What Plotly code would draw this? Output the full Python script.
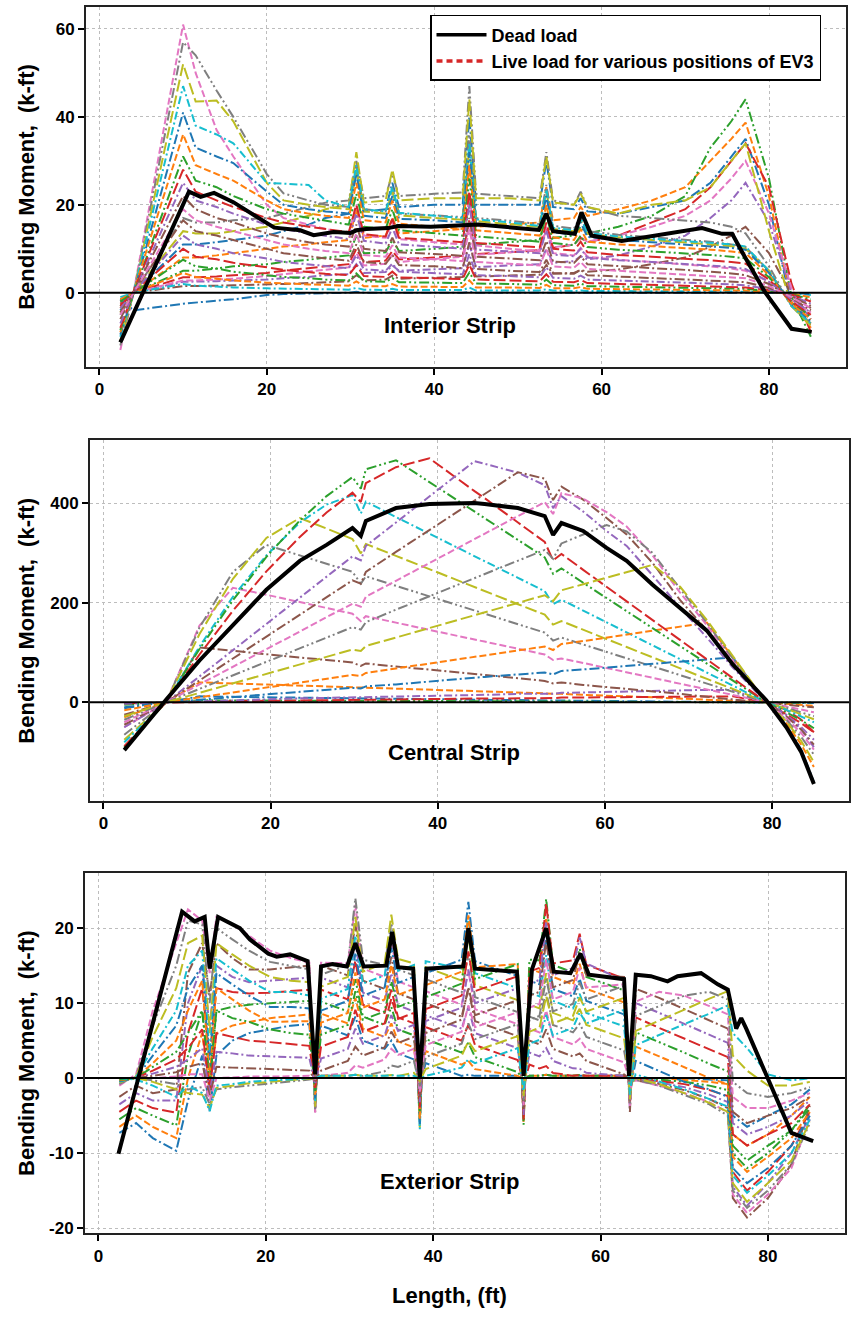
import plotly.graph_objects as go

# ======================= DATA =======================
# ---- Interior strip (top panel) ----
int_x = [2.5, 4.1, 10, 11.5, 14, 16, 20, 22, 25, 27, 29.8, 30.7, 31.6, 34.2, 35.0, 35.8, 40, 43.4,
         44.2, 45.0, 49, 52.6, 53.4, 54.2, 56.7, 57.5, 58.3, 62, 66, 70, 73, 75.5, 77.2, 80, 82.7, 85]
int_dead_x = [2.5, 10.7, 12.1, 13.7, 16, 20.9, 24, 25.6, 28, 30, 30.7, 31.9, 34.5, 35.7, 39.6, 43.6,
              45.3, 52.5, 53.4, 54.2, 56.8, 57.6, 58.8, 62.4, 66.3, 72, 74.4, 75.6, 76.8, 79.5, 82.7, 85.1]
int_dead_y = [-11.3, 23, 21.8, 22.7, 20.6, 14.8, 14.2, 13.1, 13.8, 13.6, 14.2, 14.5, 14.7, 15.2, 15, 15.3,
              15.5, 14.3, 18, 14, 13.4, 18.3, 13, 11.8, 13, 14.7, 13.4, 13.4, 9.2, 0.2, -8.2, -8.9]
int_live = [
    [-4, 0, 11, 11, 11.5, 12, 13, 14, 15.5, 17, 18, 28, 18.5, 19, 25, 19.5, 20, 20, 40, 20, 20, 20, 30, 19.5, 19, 21.5, 18.5, 18, 19.5, 21, 25, 31, 35, 20, -3, -7.5],
    [-3.5, 0, 8, 8, 8.5, 9, 10, 10.5, 11, 11.5, 12, 19, 12.5, 13, 17, 13.5, 14, 14.5, 29, 15, 15.5, 16, 24, 16.5, 17, 19.5, 17.5, 19, 21, 24, 30, 35, 38.7, 22, -2, -8],
    [-3, 0, 5, 5, 5.5, 6, 6.5, 7, 7.5, 8, 8.5, 13, 9, 9.2, 12, 9.5, 10, 10.5, 21, 11, 11.5, 12, 18, 12.5, 13, 15, 13.5, 15, 17.5, 22, 33, 39, 44, 26, -1, -10],
    [-2.5, 0, 3.5, 3.5, 3.7, 4, 4.5, 5, 5.5, 6, 6.5, 10, 7, 7.3, 9.5, 7.6, 8, 8.4, 16.5, 8.8, 9.2, 9.7, 14.5, 10.2, 11, 12.5, 11.5, 13, 16, 19, 24, 30, 34, 24, 2, -9],
    [-2, 0, 2.5, 2.5, 2.6, 2.8, 3, 3.3, 3.6, 4, 4.2, 6.5, 4.5, 4.7, 6.2, 5, 5.3, 5.6, 11, 5.8, 6.2, 6.5, 10, 6.8, 7.2, 8.3, 7.6, 8.5, 10.5, 13, 17, 21, 25, 16, 0, -6],
    [-1.5, 0, 1.5, 1.5, 1.6, 1.7, 1.8, 2, 2.2, 2.4, 2.6, 4, 2.8, 3, 3.9, 3.2, 3.4, 3.6, 7, 3.7, 3.9, 4.1, 6.3, 4.3, 4.5, 5.2, 4.8, 5.3, 6.5, 8, 10.5, 13, 15, 9, -0.5, -3.5],
    [-2, 0, 2.8, 2.8, 3, 3.2, 3.8, 4.2, 4.8, 5.2, 5.8, 9, 6.2, 6.6, 8.6, 7, 7.6, 8.2, 16, 8.6, 9.2, 9.8, 15, 10.3, 11, 12.6, 11.6, 13, 15, 17.5, 21, 26, 30, 18, 1, -8],
    [-5, 0, 17, 16, 16, 16.5, 17, 18, 19.5, 20.5, 21, 30, 21.5, 22, 27, 22, 22.5, 22.8, 47, 22.5, 22, 21.5, 32, 21, 20, 23, 19.5, 17.5, 17, 16.5, 16, 15, 13.5, 6, -3, -6],
    [-4.5, 0, 14, 13.5, 13.5, 14, 15, 16, 17.5, 19, 20, 32, 20.5, 21, 28, 21, 21.5, 21.5, 44, 21.5, 21.5, 21, 31, 20.5, 20, 22.5, 19.5, 18, 20, 21, 24, 30, 34, 14, -3, -7],
    [-1, 0, 2, 1.6, 1.4, 1.2, 1, 0.9, 0.8, 0.8, 0.7, 1.1, 0.7, 0.6, 0.9, 0.6, 0.6, 0.6, 1.2, 0.5, 0.5, 0.5, 0.8, 0.5, 0.4, 0.5, 0.4, 0.4, 0.4, 0.3, 0.3, 0.3, 0.2, 0.1, -0.1, -0.5],
    [-1.5, -4, -2.5, -2.2, -1.8, -1.5, -0.5, -0.3, -0.2, -0.1, 0, 0.2, 0, 0, 0.1, 0, 0, 0, 0.2, 0, 0, 0, 0.1, 0, 0, 0, 0, 0, 0, 0, 0, 0, 0, 0, 0, -0.3],
    [-1.5, 0, 4.5, 3.6, 3.2, 2.8, 2.3, 2.1, 1.9, 1.8, 1.6, 2.6, 1.5, 1.5, 2, 1.4, 1.3, 1.3, 2.8, 1.2, 1.2, 1.1, 1.8, 1, 1, 1.3, 0.9, 0.8, 0.8, 0.7, 0.6, 0.6, 0.5, 0.2, -0.2, -1],
    [-2, 0, 7.5, 6, 5.5, 4.8, 4, 3.6, 3.3, 3, 2.8, 4.4, 2.6, 2.5, 3.3, 2.4, 2.3, 2.2, 4.6, 2.1, 2, 1.8, 3, 1.7, 1.6, 2.1, 1.5, 1.4, 1.3, 1.2, 1.1, 1, 0.9, 0.4, -0.3, -1.5],
    [-3, 0.1, 10, 8.2, 7.6, 6.8, 5.8, 5.2, 4.7, 4.3, 4, 6.2, 3.8, 3.6, 4.8, 3.5, 3.3, 3.1, 6.4, 3, 2.8, 2.6, 4.2, 2.5, 2.4, 2.9, 2.2, 2, 1.9, 1.7, 1.5, 1.4, 1.2, 0.6, -0.4, -2],
    [-3.5, 0, 13, 11, 10, 9, 7.8, 7, 6.4, 6, 5.6, 8.5, 5.3, 5, 6.6, 4.8, 4.5, 4.2, 8.8, 4, 3.8, 3.5, 5.8, 3.4, 3.2, 3.9, 3, 2.8, 2.6, 2.3, 2.1, 1.9, 1.7, 0.8, -0.6, -2.5],
    [-4.5, 0.2, 16.5, 14, 13, 12, 10, 9, 8.3, 7.8, 7.3, 11, 7, 6.6, 8.6, 6.3, 6, 5.6, 11.5, 5.4, 5, 4.7, 7.5, 4.5, 4.3, 5.2, 4, 3.7, 3.4, 3.1, 2.8, 2.6, 2.4, 1.1, -0.8, -3],
    [-13, 0.3, 61, 50, 37, 31, 20, 17, 15.5, 14.5, 13.5, 20, 13, 12.5, 16, 12.2, 11.5, 11, 22, 10.8, 10, 9.4, 14.5, 9, 8.5, 10.2, 8.2, 7.5, 7, 6.5, 6, 5.5, 5, 2.5, -1.5, -4.5],
    [-12, 0, 57, 54, 46, 40, 27, 22.6, 21, 20, 19.5, 29, 19, 18.5, 24, 18, 17.6, 17.2, 36, 17, 16.4, 15.6, 24.5, 15.2, 14.6, 17.5, 14, 13.2, 12.6, 12, 11.6, 11, 10.4, 5, -3, -7],
    [-11, 0, 52, 43.5, 43.7, 39, 25, 21, 20, 19.5, 19, 28, 18.5, 18, 23, 17.6, 17, 16.6, 33, 16.3, 15.6, 15, 23, 14.5, 14, 16.5, 13.4, 12.6, 12, 11.5, 11, 10.6, 10, 5, -3, -7.5],
    [-10, 0.2, 47, 38, 36, 34, 25, 24.8, 24.5, 21, 19.5, 29, 19, 18.5, 24, 18.2, 17.5, 17, 34, 16.7, 16, 15.2, 23.5, 14.8, 14.2, 17, 13.6, 12.8, 12.3, 11.8, 11.4, 11, 10.5, 5, -3, -7],
    [-9.5, 0, 41, 33, 31, 29.5, 23, 20, 19, 18.5, 18, 27, 17.5, 17, 22, 16.8, 16.5, 16, 32, 15.7, 15, 14.3, 22, 13.8, 13.2, 16, 12.7, 12, 11.5, 11, 10.6, 10.2, 9.8, 4.5, -2.5, -6.5],
    [-9, 0.3, 36, 29, 27, 25.5, 21, 19, 18, 17.5, 17, 25, 16.5, 16, 21, 15.7, 15, 14.5, 29, 14.2, 13.6, 13, 20, 12.6, 12, 14.5, 11.6, 11, 10.6, 10.2, 9.8, 9.4, 9, 4, -2.5, -6],
    [-8.5, 0, 31, 25.5, 24, 22, 19, 18, 17, 16.3, 15.5, 22.5, 15, 14.5, 19, 14.2, 13.6, 13, 26, 12.8, 12.2, 11.6, 18, 11.3, 10.8, 13, 10.4, 9.8, 9.4, 9, 8.6, 8.2, 7.8, 3.5, -2, -5.5],
    [-8, 0.3, 28, 23, 21, 19.5, 17, 16, 15, 14.5, 13.8, 20, 13.3, 12.8, 16.8, 12.5, 12, 11.5, 23, 11.3, 10.8, 10.3, 16, 10, 9.6, 11.6, 9.2, 8.6, 8.2, 7.8, 7.4, 7, 6.6, 3, -2, -5],
    [-7, 0, 25, 21, 19.5, 18, 15.5, 14.5, 13.5, 13, 12.2, 18, 11.8, 11.2, 14.8, 11, 10.5, 10, 20, 9.8, 9.4, 9, 14.2, 8.7, 8.3, 10, 8, 7.4, 7, 6.6, 6.2, 5.8, 5.4, 2.5, -1.5, -4.5],
    [-6, 0.2, 22, 19, 17, 16, 13.5, 12.5, 11.5, 11, 10.5, 15.5, 10, 9.5, 12.5, 9.2, 8.8, 8.4, 17, 8.2, 7.8, 7.4, 11.8, 7.1, 6.8, 8.3, 6.5, 6, 5.6, 5.2, 4.8, 4.4, 4, 2, -1.2, -4],
    [-5, 0, 19, 16.5, 15, 14, 12, 11, 10, 9.5, 9, 13.5, 8.6, 8.2, 10.8, 8, 7.6, 7.2, 14.5, 7, 6.6, 6.2, 9.8, 6, 5.7, 7, 5.4, 5, 4.6, 4.2, 3.9, 3.6, 3.3, 1.5, -1, -3.5],
]

# ---- Central strip (middle panel) ----
cen_x = [2.5, 5, 7.5, 11.5, 15.5, 19.5, 23.5, 26.7, 29.8, 30.8, 31.4, 35, 39, 44.4, 45.6, 49.6, 52.8,
         53.8, 54.8, 57.4, 60.2, 62.6, 65.7, 69, 72.2, 75.3, 79.3, 81.7, 83.5, 85]
cen_dead_y = [-96, -45, 5, 84, 156, 226, 284, 316, 350, 334, 364, 390, 398, 400, 398, 390, 374, 336,
              360, 344, 310, 284, 236, 190, 144, 76, 4, -50, -100, -164]
cen_live = [
    [-12, -5, 0, 12, 11, 10, 9, 8.5, 8, 7.5, 7.8, 7, 6, 5, 5, 4.5, 4, 3.7, 3.8, 3.3, 3, 2.6, 2, 1.6, 1.1, 0.6, 0, -0.5, -1, -1.5],
    [-30, -15, 0, 40, 38, 36, 34, 32, 31, 29, 30, 28, 26, 23, 22, 20, 18, 17, 17, 15, 14, 12, 10, 8, 6, 3, 0, -3, -5, -7],
    [-5, -2, 0, 4, 4, 3.8, 3.6, 3.4, 3.2, 3, 3.1, 2.9, 2.6, 2.3, 2.2, 2, 1.8, 1.6, 1.7, 1.5, 1.3, 1.1, 0.9, 0.7, 0.5, 0.3, 0, -0.2, -0.4, -0.6],
    [-2, -1, 0, 1, 2, 3, 4, 4.5, 5, 4.8, 5.2, 6, 6.5, 7.5, 7.5, 8.5, 9, 8.5, 9.5, 10, 10.5, 11, 11.5, 12, 12, 12, 0, -15, -35, -60],
    [-3, -1.5, 0, 2, 4, 6, 8, 9, 10, 9.5, 11, 12, 13, 15, 15, 17, 18, 17, 19, 20, 21, 22, 23, 24, 25, 25, 0, -25, -55, -90],
    [-25, -12, 0, 110, 103, 97, 90, 85, 80, 73, 78, 72, 65, 57, 55, 48, 43, 38, 40, 35, 31, 27, 22, 17, 11, 6, 0, -4, -7, -10],
    [-50, -25, 0, 154, 230, 216, 201, 190, 178, 163, 173, 160, 145, 126, 122, 107, 96, 85, 88, 79, 69, 60, 49, 37, 26, 14, 0, -8, -14, -20],
    [-65, -33, 0, 150, 262, 316, 295, 278, 262, 238, 253, 234, 213, 185, 178, 157, 140, 124, 130, 116, 101, 88, 72, 54, 38, 21, 0, -11, -20, -28],
    [-75, -38, 0, 137, 248, 330, 370, 349, 328, 299, 318, 294, 267, 231, 224, 197, 176, 156, 163, 145, 127, 111, 90, 68, 47, 27, 0, -13, -24, -34],
    [-80, -40, 0, 112, 212, 295, 361, 397, 416, 379, 403, 372, 339, 293, 283, 250, 223, 197, 206, 184, 161, 140, 114, 87, 60, 34, 0, -15, -28, -40],
    [-10, -5, 0, 5, 11, 16, 21, 25, 29, 28, 32, 36, 42, 49, 51, 56, 60, 56, 63, 66, 70, 73, 77, 82, 86, 90, 0, -45, -95, -160],
    [-16, -8, 0, 10, 20, 30, 40, 47, 55, 53, 59, 68, 78, 91, 94, 104, 112, 105, 117, 123, 130, 136, 144, 152, 160, 90, 0, -42, -85, -130],
    [-90, -45, 0, 107, 205, 292, 365, 414, 452, 429, 468, 486, 442, 383, 370, 326, 291, 258, 269, 240, 210, 183, 149, 113, 78, 44, 0, -20, -36, -52],
    [-88, -45, 0, 96, 184, 263, 332, 381, 421, 402, 440, 472, 490, 424, 410, 361, 322, 285, 298, 266, 232, 203, 165, 125, 86, 49, 0, -24, -42, -60],
    [-50, -25, 0, 52, 105, 157, 210, 252, 293, 285, 314, 361, 413, 484, 479, 461, 436, 390, 414, 383, 344, 314, 255, 190, 130, 70, 0, -25, -50, -75],
    [-45, -22, 0, 44, 88, 132, 175, 211, 245, 238, 262, 302, 346, 405, 418, 462, 449, 406, 433, 407, 370, 337, 280, 205, 145, 78, 0, -28, -55, -85],
    [-40, -20, 0, 36, 71, 107, 142, 171, 198, 192, 212, 244, 280, 328, 338, 374, 402, 378, 420, 409, 382, 353, 295, 220, 155, 84, 0, -32, -62, -95],
    [-35, -17, 0, 27, 54, 81, 108, 130, 151, 146, 161, 186, 213, 249, 257, 284, 306, 288, 319, 337, 356, 343, 300, 228, 160, 88, 0, -35, -70, -105],
    [-28, -14, 0, 19, 38, 57, 76, 91, 106, 103, 113, 130, 149, 175, 181, 200, 215, 203, 225, 237, 250, 261, 276, 232, 165, 93, 0, -38, -78, -120],
]

# ---- Exterior strip (bottom panel) ----
ext_x = [2.5, 4.5, 6.5, 9.3, 10.7, 12.4, 13.3, 14.1, 16, 18, 20.5, 23, 25.2, 25.9, 26.6, 29.8, 30.7, 31.6,
         34.2, 35, 35.8, 37.7, 38.4, 39.1, 43.4, 44.2, 45, 50.1, 50.8, 51.5, 52.7, 53.5, 54.3, 56.7, 57.5,
         58.3, 62.8, 63.5, 64.2, 67, 70, 73, 75.2, 75.8, 77.5, 80, 82.8, 85]
ext_dead_x = [2.4, 10, 11.5, 12.7, 13.3, 14.3, 16.9, 18.1, 20.3, 21.3, 22.9, 25, 25.9, 26.6, 28, 29.7, 30.7,
              31.7, 34.4, 35.1, 35.8, 37.6, 38.4, 39.2, 43.6, 44.2, 45, 50, 50.8, 51.8, 53.5, 54.4, 56.4,
              57.6, 58.6, 62.8, 63.4, 64.2, 66, 68, 69.2, 72, 74, 75.2, 76.2, 76.8, 77.4, 80, 82.8, 85.4]
ext_dead_y = [-10.1, 22.2, 20.9, 21.5, 14.6, 21.5, 20, 18.5, 16.6, 16.2, 16.5, 15.6, 0.5, 14.9, 15.2, 14.9,
              18, 14.9, 15, 19.5, 14.8, 14.6, 0, 14.6, 14.9, 20, 14.6, 14.2, 0.3, 14.5, 20, 14.2, 14, 16.6,
              13.8, 13.2, 0.3, 13.8, 13.6, 12.9, 13.6, 14, 12.5, 11.8, 6.6, 8, 6.6, 0, -7.3, -8.4]
ext_live = [
    [-7.3, -6, -8, -9.7, -3, 3, -4.4, 3, 5, 6, 6.5, 7, 7.2, -2.1, 7.0, 5.7, 8.2, 5.0, 3.9, 5.0, 3.3, 2.5, -1.0, 2.0, 0.3, 0.45, 0.3, 0.3, -0.1, 0.3, 0.3, 0.45, 0.3, 0.3, 0.4, 0.3, 0.3, -0.1, 0, 0, 0, -0.2, -0.3, -5, -6.5, -5, -3.5, -1.5],
    [-6.5, -5, -6.5, -8, 0, 6, -2, 6, 7, 7.5, 8, 8.3, 8.5, -2.6, 8.6, 7.3, 10.7, 6.6, 5.5, 7.3, 4.9, 4.1, -1.7, 3.6, 1.8, 2.3, 1.2, 0.3, -0.1, 0.3, 0.3, 0.45, 0.3, 0.3, 0.4, 0.3, 0.3, -0.1, 0, 0, -0.2, -0.5, -0.8, -7.5, -9, -7.5, -5, -2.5],
    [-5.5, -4, -5, -6.3, 3, 9, 0, 9, 9.5, 9.8, 10, 10.2, 10.3, -3.1, 10.2, 8.9, 13.2, 8.2, 7.1, 9.5, 6.5, 5.7, -2.4, 5.2, 3.4, 4.7, 2.8, 0.8, -0.2, 0.3, 0.3, 0.45, 0.3, 0.3, 0.4, 0.3, 0.3, -0.1, 0, -0.2, -0.5, -1, -1.6, -10, -12, -10, -7, -3.5],
    [-4.5, -3, -4, -4.6, 6, 12, 3, 12, 11.5, 11.3, 11.4, 11.6, 11.8, -3.5, 11.8, 10.5, 15.7, 9.8, 8.7, 11.8, 8.1, 7.3, -3.1, 6.8, 5.0, 7.1, 4.4, 2.4, -0.8, 1.8, 1.3, 1.6, 0.7, 0.3, 0.4, 0.3, 0.3, -0.1, -0.1, -0.4, -0.8, -1.6, -2.4, -12.5, -15, -12.5, -9, -4.5],
    [-3.5, -2, -3, -3, 10, 15, 7, 15, 13.5, 12.8, 13, 13.2, 13.4, -4.0, 13.4, 12.1, 18.2, 11.4, 10.3, 14.0, 9.7, 8.9, -3.8, 8.4, 6.6, 9.5, 6.0, 4.0, -1.5, 3.4, 2.9, 4.0, 2.3, 1.3, 1.25, 0.7, 0.3, -0.1, -0.2, -0.6, -1.2, -2.2, -3.2, -14.5, -17, -14, -10, -5],
    [-2.5, -1, -2, -1.5, 14, 18, 11, 18, 16, 14.5, 14.5, 14.8, 15, -4.5, 15.0, 13.7, 20.6, 13.0, 11.9, 16.2, 11.3, 10.5, -4.5, 10.0, 8.2, 11.9, 7.6, 5.6, -2.1, 5.0, 4.5, 6.5, 3.9, 2.9, 3.3, 2.3, 0.5, -0.1, -0.3, -0.8, -1.6, -2.8, -4, -16, -18.6, -16, -11.5, -3.7],
    [-1, 0.5, 9, 18, 22.5, 21, 14, 21.5, 20.5, 19, 17, 16, 15.4, -4.6, 15.4, 15.3, 23.1, 14.6, 13.5, 18.5, 12.9, 12.1, -5.2, 11.6, 9.8, 14.3, 9.2, 7.2, -2.8, 6.6, 6.1, 9.0, 5.5, 4.5, 5.25, 3.9, 2.1, -0.4, -0.3, -1, -2, -3.2, -4.6, -15.5, -18, -15.5, -12, -5.5],
    [-0.8, 0.3, 7, 15, 21, 20.5, 10, 20, 18.5, 17, 15.5, 15, 14.5, -4.3, 13.8, 15.1, 24.0, 15.8, 15.1, 20.7, 14.5, 13.7, -5.9, 13.2, 11.4, 16.7, 10.8, 8.8, -3.4, 8.2, 7.7, 11.5, 7.1, 6.1, 7.25, 5.5, 3.7, -0.6, -0.2, -1, -2.2, -3.5, -5, -15, -17.3, -15, -11.5, -6],
    [-0.6, 0.2, 5.5, 12, 18, 19, 6, 18, 16.5, 15, 13.5, 13, 12.8, -3.8, 12.2, 13.5, 21.5, 14.2, 15.3, 21.8, 15.9, 15.3, -6.6, 14.8, 13.0, 19.1, 12.4, 10.4, -4.0, 9.8, 9.3, 14.0, 8.7, 7.7, 9.25, 7.1, 5.3, -0.9, 0, -0.8, -2, -3.3, -4.5, -14, -16.5, -14, -11, -5.8],
    [-0.5, 0.1, 4, 9, 15, 17, 3, 16, 14.5, 13, 11.5, 11.5, 11, -3.2, 10.6, 11.9, 19.0, 12.6, 13.7, 19.6, 14.3, 15.1, -6.8, 15.6, 14.6, 21.5, 14.0, 12.0, -4.7, 11.4, 10.9, 16.4, 10.3, 9.3, 11.25, 8.7, 6.9, -1.2, 0.5, -0.5, -1.5, -2.8, -3.8, -13, -15.3, -13, -10, -5.5],
    [-0.4, 0, 3, 7, 12, 15, 1, 14, 12.5, 11, 9.5, 9.5, 9.3, -2.7, 9.0, 10.3, 16.6, 11.0, 12.1, 17.4, 12.7, 13.5, -6.1, 14.0, 15.8, 23.5, 15.6, 13.6, -5.3, 13.0, 12.5, 18.9, 11.9, 10.9, 13.25, 10.3, 8.5, -1.8, 2.3, 0.9, -0.5, -1.5, -2.5, -12, -14, -12, -9, -5],
    [-0.3, 0, 2, 5, 9, 13, 0, 12, 10.5, 9, 7.5, 7.5, 7.6, -2.2, 7.4, 8.7, 14.1, 9.4, 10.5, 15.1, 11.1, 11.9, -5.4, 12.4, 14.2, 21.7, 14.8, 15.2, -6.0, 14.6, 14.1, 21.4, 13.5, 12.5, 15.25, 11.9, 10.1, -2.4, 4.2, 2.9, 1.4, 0, -0.8, -10.5, -12.5, -10.5, -8, -4.5],
    [-0.2, 0, 1.5, 3.5, 6, 9, -1, 9, 8, 7.5, 6.5, 6, 5.8, -1.7, 5.8, 7.1, 11.6, 7.8, 8.9, 12.9, 9.5, 10.3, -4.6, 10.8, 12.6, 19.3, 13.2, 15.2, -6.2, 15.8, 15.7, 23.9, 15.1, 14.1, 17.25, 13.5, 11.7, -2.9, 6.1, 4.8, 3.4, 1.9, 0.9, -9, -11, -9, -7, -4],
    [0, 0, 1, 2.5, 4, 6.5, -1.5, 6, 5.5, 5, 4.8, 4.5, 4.3, -1.3, 4.2, 5.5, 9.1, 6.2, 7.3, 10.6, 7.9, 8.7, -3.9, 9.2, 11.0, 16.9, 11.6, 13.6, -5.6, 14.2, 14.7, 23.3, 15.3, 15.7, 19.25, 15.1, 13.3, -3.5, 8.1, 6.7, 5.3, 3.8, 2.8, -7.5, -9, -7.5, -6, -3.5],
    [0, 0, 0.6, 1.5, 2.5, 4, -2, 3.5, 3.3, 3, 2.9, 2.8, 2.7, -0.8, 2.6, 3.9, 6.6, 4.6, 5.7, 8.4, 6.3, 7.1, -3.2, 7.6, 9.4, 14.5, 10.0, 12.0, -4.9, 12.6, 13.1, 20.8, 13.7, 14.7, 18.75, 15.3, 13.0, -4.1, 10.0, 8.7, 7.2, 5.8, 4.7, -6, -7.5, -6.5, -5, -3],
    [0, 0, 0.3, 0.8, 1.5, 2, -2.5, 1.5, 1.4, 1.3, 1.2, 1.1, 1, -0.3, 1.0, 2.3, 4.2, 3.0, 4.1, 6.2, 4.7, 5.5, -2.5, 6.0, 7.8, 12.1, 8.4, 10.4, -4.3, 11.0, 11.5, 18.3, 12.1, 13.1, 16.75, 13.7, 13.5, -4.5, 11.9, 10.7, 9.2, 7.8, 6.6, -4.5, -6, -5, -4, -2.5],
    [0, 0, 0, 0.2, 0.5, 0.5, -3, 0, 0.1, 0.2, 0.2, 0.3, 0.3, -0.1, 0.3, 0.7, 1.7, 1.4, 2.5, 3.9, 3.1, 3.9, -1.8, 4.4, 6.2, 9.7, 6.8, 8.8, -3.6, 9.4, 9.9, 15.8, 10.5, 11.5, 14.75, 12.1, 12.5, -3.7, 10.2, 11.5, 11, 9.6, 8.5, -2.5, -4, -4, -3, -2],
    [0, 0, -0.3, -0.8, -1.5, -1.2, -3.5, -1.5, -1.2, -1, -0.7, -0.4, -0.2, 0, 0.3, 0.3, 0.45, 0.3, 0.9, 1.7, 1.5, 2.3, -1.1, 2.8, 4.6, 7.3, 5.2, 7.2, -3.0, 7.8, 8.3, 13.3, 8.9, 9.9, 12.75, 10.5, 12.3, -3.4, 8.3, 9.6, 11, 11.5, 10.5, -0.5, -2, -2.5, -2, -1.2],
    [0, 0, -0.5, -1.5, -2, -2.2, -4, -1.3, -1, -0.7, -0.5, -0.3, -0.1, 0, 0.3, 0.3, 0.45, 0.3, 0.3, 0.4, 0.3, 0.7, -0.4, 1.2, 3.0, 4.9, 3.6, 5.6, -2.4, 6.2, 6.7, 10.9, 7.3, 8.3, 10.75, 8.9, 10.7, -2.8, 6.3, 7.7, 9.1, 10.6, 11.6, 3, 1, -1, -1, -0.5],
    [0, -0.2, -1, -2.5, -1, -2, -4.4, -1, -0.8, -0.5, -0.3, -0.2, 0, 0, 0.3, 0.3, 0.45, 0.3, 0.3, 0.4, 0.3, 0.3, -0.1, 0.3, 1.4, 2.5, 2.0, 4.0, -1.7, 4.6, 5.1, 8.4, 5.7, 6.7, 8.75, 7.3, 9.1, -2.2, 4.4, 5.8, 7.2, 8.6, 9.7, 6, 4, 0.5, -0.3, 0],
]

x_ticks = [0, 20, 40, 60, 80]
int_yticks = [0, 20, 40, 60]
cen_yticks = [0, 200, 400]
ext_yticks = [-20, -10, 0, 10, 20]
strip_names = ["Interior Strip", "Central Strip", "Exterior Strip"]
legend_names = ["Dead load", "Live load for various positions of EV3"]
y_title = "Bending Moment,  (k-ft)"
x_title = "Length, (ft)"

# ---- sanity check of array lengths ----
bad = []
for name, xs, ys in [("int", int_x, int_live), ("cen", cen_x, cen_live), ("ext", ext_x, ext_live)]:
    for i, y in enumerate(ys):
        if len(y) != len(xs):
            bad.append(f"{name}[{i}] len {len(y)} != {len(xs)}")
if len(int_dead_x) != len(int_dead_y):
    bad.append("int dead")
if len(cen_x) != len(cen_dead_y):
    bad.append("cen dead")
if len(ext_dead_x) != len(ext_dead_y):
    bad.append("ext dead")
if bad:
    raise ValueError("; ".join(bad))

# ======================= STYLE =======================
W, H = 851, 1321
COLORS = ['#1f77b4', '#ff7f0e', '#2ca02c', '#d62728', '#9467bd',
          '#8c564b', '#e377c2', '#7f7f7f', '#bcbd22', '#17becf']
DASHES = ["10px,3px,2px,3px", "7px,3px", "10px,3px,2px,3px,2px,3px", "12px,4px", "8px,3px,2px,3px"]
FONT = "Liberation Sans, Arial, Helvetica, sans-serif"

# pixel boxes of the three plot areas: (left, top, right, bottom)
boxes = [(86, 7, 846, 368), (90, 442, 849, 804), (85, 876, 845, 1238)]
yranges = [[-16.8, 65], [-198, 526], [-20.7, 27.4]]
ytickvals = [int_yticks, cen_yticks, ext_yticks]
xrange_ = [-1.6, 89.2]

fig = go.Figure()

panels = [
    (int_x, int_live, int_dead_x, int_dead_y),
    (cen_x, cen_live, cen_x, cen_dead_y),
    (ext_x, ext_live, ext_dead_x, ext_dead_y),
]

for p, (xs, lives, dx, dy) in enumerate(panels):
    xa = "x" if p == 0 else f"x{p+1}"
    ya = "y" if p == 0 else f"y{p+1}"
    for i, ys in enumerate(lives):
        fig.add_trace(go.Scatter(
            x=xs, y=ys, mode="lines", xaxis=xa, yaxis=ya, showlegend=False,
            line=dict(color=COLORS[i % 10], width=2.0, dash=DASHES[i % len(DASHES)]),
            hoverinfo="skip"))
    fig.add_trace(go.Scatter(
        x=dx, y=dy, mode="lines", xaxis=xa, yaxis=ya, showlegend=False,
        line=dict(color="black", width=4.0), hoverinfo="skip"))

# legend-only entries
fig.add_trace(go.Scatter(x=[None], y=[None], mode="lines", name=legend_names[0],
                         line=dict(color="black", width=3.5)))
fig.add_trace(go.Scatter(x=[None], y=[None], mode="lines", name=legend_names[1],
                         line=dict(color="#d62728", width=3.5, dash="6px,4px")))

TICKFONT = dict(family=FONT, size=17, color="black", weight="bold")
layout = dict(
    width=W, height=H,
    margin=dict(l=0, r=0, t=0, b=0),
    paper_bgcolor="white", plot_bgcolor="white",
    font=dict(family=FONT, size=17, color="black", weight="bold"),
    showlegend=True,
    legend=dict(x=430 / W, y=1 - 15 / H, xanchor="left", yanchor="top",
                bgcolor="white", bordercolor="black", borderwidth=1.5,
                font=dict(family=FONT, size=18, color="black", weight="bold"),
                itemwidth=50, tracegroupgap=0),
)

annotations = []
shapes = []
for p in range(3):
    l, t, r, b = boxes[p]
    sfx = "" if p == 0 else str(p + 1)
    xd = [l / W, r / W]
    yd = [1 - b / H, 1 - t / H]
    layout["xaxis" + sfx] = dict(
        domain=xd, range=xrange_, anchor="y" + sfx, tickmode="array", tickvals=x_ticks,
        ticks="outside", ticklen=6, tickwidth=1.5, tickcolor="black",
        showgrid=True, gridcolor="#bdbdbd", griddash="dot", gridwidth=1,
        showline=True, linecolor="#222222", linewidth=2, mirror=True, zeroline=False,
        tickfont=TICKFONT)
    yt = ytickvals[p]
    layout["yaxis" + sfx] = dict(
        domain=yd, range=yranges[p], anchor="x" + sfx, tickmode="array", tickvals=yt,
        ticktext=[str(v) for v in yt],
        ticks="outside", ticklen=6, tickwidth=1.5, tickcolor="black",
        showgrid=True, gridcolor="#bdbdbd", griddash="dot", gridwidth=1,
        showline=True, linecolor="#222222", linewidth=2, mirror=True, zeroline=False,
        tickfont=TICKFONT)
    # zero reference line above traces
    shapes.append(dict(type="line", xref=f"x{sfx} domain", yref=f"y{sfx}", x0=0, x1=1, y0=0, y1=0,
                       line=dict(color="black", width=2), layer="above"))
    # y-axis title
    annotations.append(dict(text=y_title, xref="paper", yref="paper",
                            x=27 / W, y=1 - ((t + b) / 2) / H, textangle=-90, showarrow=False,
                            xanchor="center", yanchor="middle",
                            font=dict(family=FONT, size=22, color="black", weight="bold")))

# strip labels
strip_pos = [(41.9, -7.5), (41.9, -100), (41.9, -13.8)]
for p in range(3):
    sfx = "" if p == 0 else str(p + 1)
    annotations.append(dict(text=strip_names[p], xref="x" + sfx, yref="y" + sfx,
                            x=strip_pos[p][0], y=strip_pos[p][1], showarrow=False,
                            xanchor="center", yanchor="middle",
                            font=dict(family=FONT, size=22, color="black", weight="bold")))

# x-axis title
annotations.append(dict(text=x_title, xref="paper", yref="paper", x=449 / W, y=1 - 1300 / H,
                        showarrow=False, xanchor="center", yanchor="middle",
                        font=dict(family=FONT, size=22, color="black", weight="bold")))

layout["annotations"] = annotations
layout["shapes"] = shapes
fig.update_layout(**layout)

fig.write_html("out.html", config={"displayModeBar": False},
               post_script="document.body.style.margin='0';")
